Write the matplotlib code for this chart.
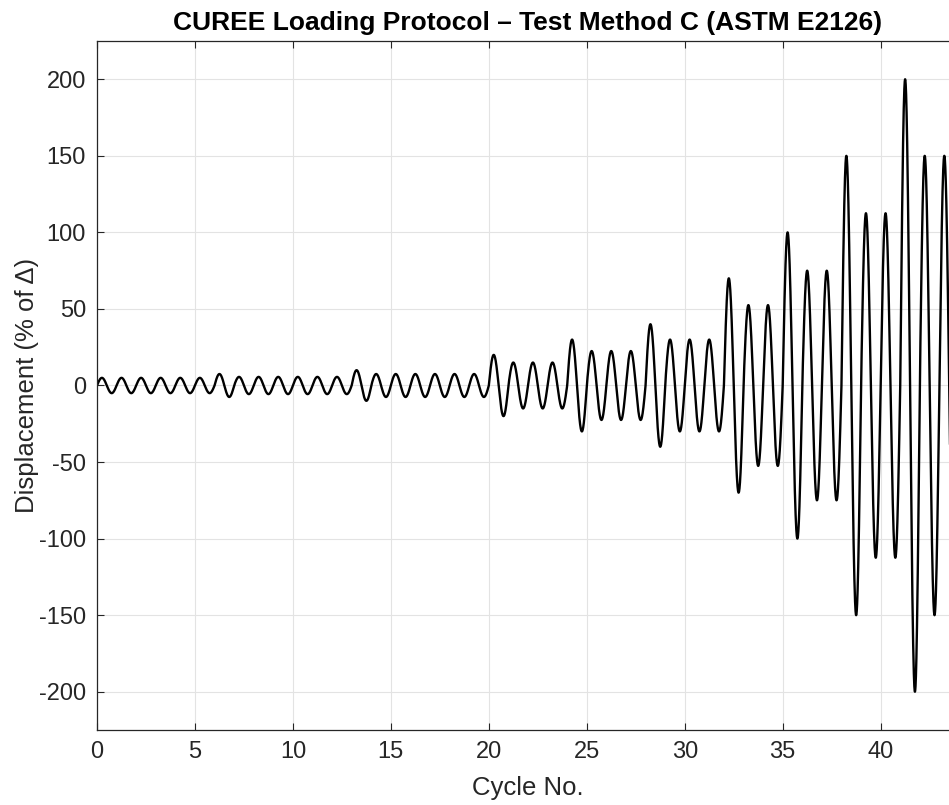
import numpy as np
import matplotlib
matplotlib.use("Agg")
import matplotlib.pyplot as plt

# CUREE protocol: amplitude (% of reference displacement) for each cycle
initial_cycles = [5.0] * 6
primary_amps = [7.5, 10.0, 20.0, 30.0, 40.0, 70.0, 100.0, 150.0, 200.0]
trailing_counts = [6, 6, 3, 3, 3, 2, 2, 2, 2]
trailing_ratio = 0.75

cycle_amps = list(initial_cycles)
for amp, n in zip(primary_amps, trailing_counts):
    cycle_amps.append(amp)
    cycle_amps.extend([amp * trailing_ratio] * n)
cycle_amps = np.array(cycle_amps)

# Sinusoidal displacement history, one full sine per cycle
pts_per_cycle = 200
t = np.linspace(0, len(cycle_amps), len(cycle_amps) * pts_per_cycle + 1)
idx = np.minimum(np.floor(t).astype(int), len(cycle_amps) - 1)
disp = cycle_amps[idx] * np.sin(2 * np.pi * t)

plt.rcParams["font.family"] = ["Liberation Sans", "DejaVu Sans"]
plt.rcParams["axes.unicode_minus"] = False

fig = plt.figure(figsize=(9.49, 8.05), dpi=100)
ax = fig.add_axes([97 / 949, 75 / 805, (959 - 97) / 949, (730 - 41) / 805])

ax.plot(t, disp, color="black", lw=1.7)

ax.set_xlim(0, len(cycle_amps))
ax.set_ylim(-225, 225)
ax.set_xticks(np.arange(0, 45, 5))
ax.set_yticks(np.arange(-200, 201, 50))

ax.grid(True, color="#e3e3e3", lw=0.8)
ax.set_axisbelow(True)
ax.tick_params(direction="in", length=5, width=0.8, colors="#262626",
               labelsize=17, top=True, right=True, pad=8)
for s in ax.spines.values():
    s.set_color("#262626")
    s.set_linewidth(0.9)

ax.set_xlabel("Cycle No.", fontsize=18.5, color="#262626", labelpad=9)
ax.set_ylabel("Displacement (% of \u0394)", fontsize=18.5, color="#262626", labelpad=0)
ax.set_title("CUREE Loading Protocol \u2013 Test Method C (ASTM E2126)",
             fontsize=19, fontweight="bold", color="black", pad=8)

fig.savefig("out.png", dpi=100)
